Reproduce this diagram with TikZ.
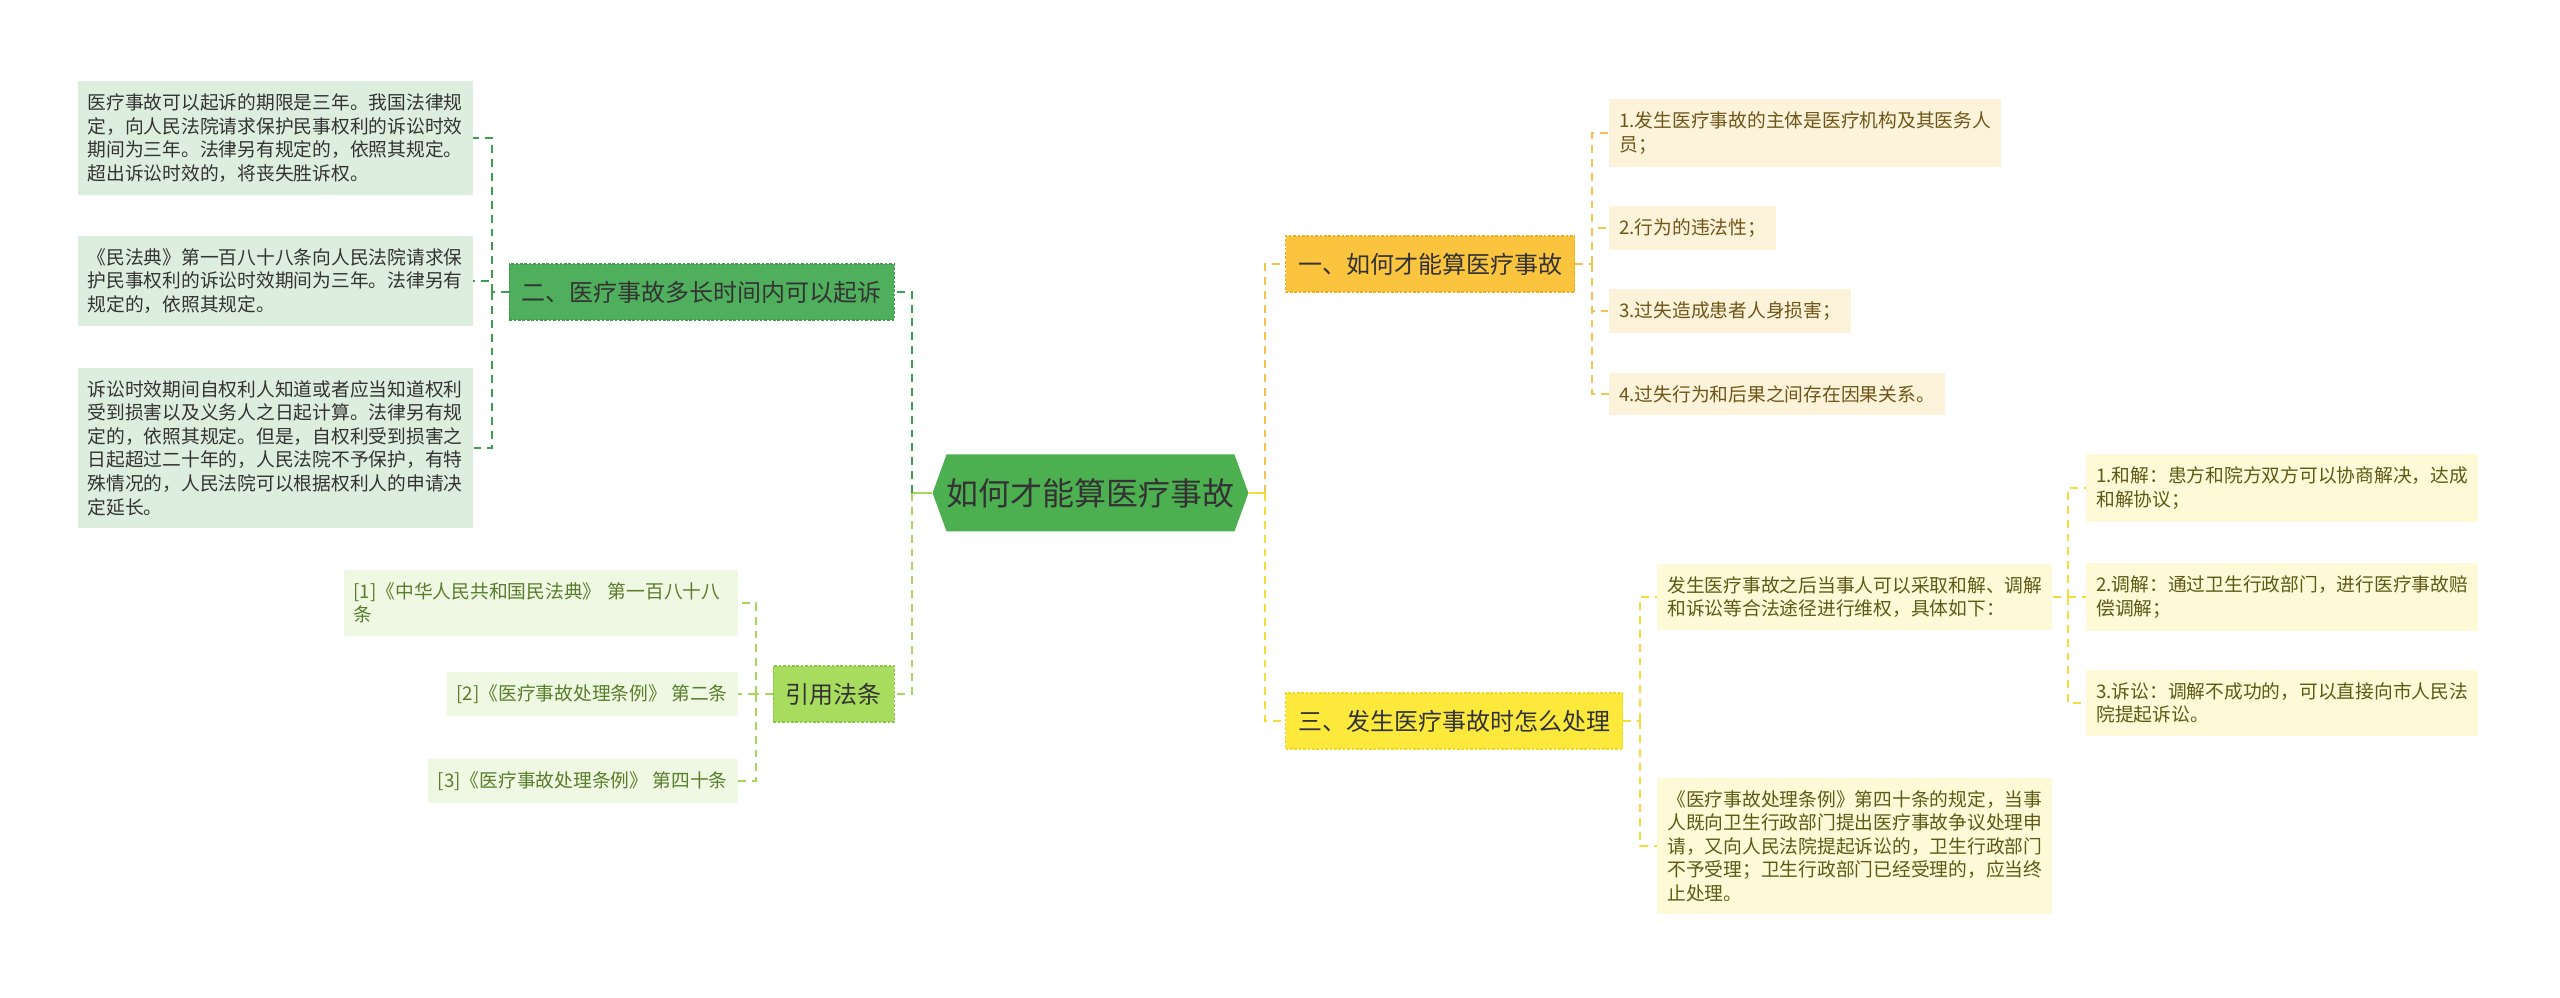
\documentclass[tikz,border=0pt]{standalone}
\usepackage{fontspec}
\setmainfont{Noto Sans CJK SC}
\usepackage{xcolor}
\usepackage{tikz}
\usetikzlibrary{shapes.symbols}
\definecolor{MAText}{HTML}{333333}
\definecolor{MARoot}{HTML}{4CAF50}
\definecolor{MAGreen}{HTML}{4FAF5C}
\definecolor{MAGreenDk}{HTML}{3E9A4C}
\definecolor{MAMint}{HTML}{DDEEDE}
\definecolor{MALime}{HTML}{A8DC5E}
\definecolor{MALimeDk}{HTML}{8CC445}
\definecolor{MALimeLeaf}{HTML}{EFF8E3}
\definecolor{MALimeText}{HTML}{5A7D2D}
\definecolor{MAAmber}{HTML}{FAC43F}
\definecolor{MAAmberDk}{HTML}{EEAE22}
\definecolor{MACream}{HTML}{FDF3DB}
\definecolor{MACreamText}{HTML}{6E5518}
\definecolor{MAYellow}{HTML}{FCE93C}
\definecolor{MAYellowDk}{HTML}{EED91E}
\definecolor{MAPale}{HTML}{FEF9D7}
\definecolor{MAPaleText}{HTML}{5E5A16}
\definecolor{MALineDk}{HTML}{3E9E50}
\definecolor{MALineLt}{HTML}{A6D65B}
\definecolor{MALineOr}{HTML}{F2C34F}
\definecolor{MALineYe}{HTML}{F3DD3C}

\begin{document}
\begin{tikzpicture}[x=1cm,y=1cm,
  twig/.style={line width=1.1pt,dash pattern=on 4.5pt off 3.4pt},
  topic/.style={rectangle,minimum height=1.12cm,inner xsep=0.25cm,inner ysep=0pt,text=MAText,
    font=\fontsize{13.66pt}{16pt}\selectfont,dash pattern=on 1.5pt off 1pt,line width=0.7pt},
  leaf/.style={rectangle,align=left,inner xsep=0.2cm,inner ysep=0.25cm,
    font=\fontsize{10.67pt}{13.4pt}\selectfont},
  root/.style={signal,signal to=west and east,signal pointer angle=140,fill=MARoot,
    minimum height=1.54cm,minimum width=5.92cm,inner xsep=0pt,text=MAText,
    font=\fontsize{18.2pt}{22pt}\selectfont}]
\path[use as bounding box] (0,0) rectangle (51.20,19.94);
% centre
\node[root] (root) at (21.81,10.08) {如何才能算医疗事故};
% first level
\node[topic,fill=MAGreen,draw=MAGreenDk,anchor=east] (howlong) at (17.90,14.10) {二、医疗事故多长时间内可以起诉};
\node[topic,fill=MALime,draw=MALimeDk,anchor=east] (laws) at (17.90,6.06) {引用法条};
\node[topic,fill=MAAmber,draw=MAAmberDk,anchor=west] (what) at (25.70,14.66) {一、如何才能算医疗事故};
\node[topic,fill=MAYellow,draw=MAYellowDk,anchor=west] (handle) at (25.70,5.52) {三、发生医疗事故时怎么处理};
% left leaves
\node[leaf,fill=MAMint,text=MAText,anchor=east] (term) at (9.46,17.18) {医疗事故可以起诉的期限是三年。我国法律规\\定，向人民法院请求保护民事权利的诉讼时效\\期间为三年。法律另有规定的，依照其规定。\\超出诉讼时效的，将丧失胜诉权。};
\node[leaf,fill=MAMint,text=MAText,anchor=east] (code) at (9.46,14.32) {《民法典》第一百八十八条向人民法院请求保\\护民事权利的诉讼时效期间为三年。法律另有\\规定的，依照其规定。};
\node[leaf,fill=MAMint,text=MAText,anchor=east] (start) at (9.46,10.98) {诉讼时效期间自权利人知道或者应当知道权利\\受到损害以及义务人之日起计算。法律另有规\\定的，依照其规定。但是，自权利受到损害之\\日起超过二十年的，人民法院不予保护，有特\\殊情况的，人民法院可以根据权利人的申请决\\定延长。};
\node[leaf,fill=MALimeLeaf,text=MALimeText,anchor=east,text width=7.48cm] (ref1) at (14.76,7.88) {[1]《中华人民共和国民法典》 第一百八十八\\条};
\node[leaf,fill=MALimeLeaf,text=MALimeText,anchor=east] (ref2) at (14.76,6.06) {[2]《医疗事故处理条例》 第二条};
\node[leaf,fill=MALimeLeaf,text=MALimeText,anchor=east] (ref3) at (14.76,4.32) {[3]《医疗事故处理条例》 第四十条};
% right leaves
\node[leaf,fill=MACream,text=MACreamText,anchor=west] (subject) at (32.18,17.28) {1.发生医疗事故的主体是医疗机构及其医务人\\员；};
\node[leaf,fill=MACream,text=MACreamText,anchor=west] (illegal) at (32.18,15.38) {2.行为的违法性；};
\node[leaf,fill=MACream,text=MACreamText,anchor=west] (harm) at (32.18,13.72) {3.过失造成患者人身损害；};
\node[leaf,fill=MACream,text=MACreamText,anchor=west] (cause) at (32.18,12.06) {4.过失行为和后果之间存在因果关系。};
\node[leaf,fill=MAPale,text=MAPaleText,anchor=west] (ways) at (33.14,8.00) {发生医疗事故之后当事人可以采取和解、调解\\和诉讼等合法途径进行维权，具体如下：};
\node[leaf,fill=MAPale,text=MAPaleText,anchor=west] (rule) at (33.14,3.02) {《医疗事故处理条例》第四十条的规定，当事\\人既向卫生行政部门提出医疗事故争议处理申\\请，又向人民法院提起诉讼的，卫生行政部门\\不予受理；卫生行政部门已经受理的，应当终\\止处理。};
\node[leaf,fill=MAPale,text=MAPaleText,anchor=west] (settle) at (41.72,10.18) {1.和解：患方和院方双方可以协商解决，达成\\和解协议；};
\node[leaf,fill=MAPale,text=MAPaleText,anchor=west] (mediate) at (41.72,8.00) {2.调解：通过卫生行政部门，进行医疗事故赔\\偿调解；};
\node[leaf,fill=MAPale,text=MAPaleText,anchor=west] (sue) at (41.72,5.88) {3.诉讼：调解不成功的，可以直接向市人民法\\院提起诉讼。};
% joints
\coordinate (jLeft) at (18.24,10.08);
\coordinate (jRight) at (25.30,10.08);
\coordinate (jHowlong) at (9.84,14.10);
\coordinate (jLaws) at (15.12,6.06);
\coordinate (jWhat) at (31.84,14.66);
\coordinate (jHandle) at (32.80,5.52);
\coordinate (jWays) at (41.36,8.00);
% connectors
\draw[MALineLt,line width=1.1pt] (root.west) -- (jLeft);
\draw[MALineYe,line width=1.1pt] (root.east) -- (jRight);
\draw[twig,MALineDk] (jLeft) |- (howlong.east);
\draw[twig,MALineLt] (jLeft) |- (laws.east);
\draw[twig,MALineOr] (jRight) |- (what.west);
\draw[twig,MALineYe] (jRight) |- (handle.west);
\draw[twig,MALineDk] (howlong.west) -- (jHowlong);
\foreach \n in {term,code,start} \draw[twig,MALineDk] (jHowlong) |- (\n.east);
\draw[twig,MALineLt] (laws.west) -- (jLaws);
\foreach \n in {ref1,ref2,ref3} \draw[twig,MALineLt] (jLaws) |- (\n.east);
\draw[twig,MALineOr] (what.east) -- (jWhat);
\foreach \n in {subject,illegal,harm,cause} \draw[twig,MALineOr] (jWhat) |- (\n.west);
\draw[twig,MALineYe] (handle.east) -- (jHandle);
\foreach \n in {ways,rule} \draw[twig,MALineYe] (jHandle) |- (\n.west);
\draw[twig,MALineYe] (ways.east) -- (jWays);
\foreach \n in {settle,mediate,sue} \draw[twig,MALineYe] (jWays) |- (\n.west);
\end{tikzpicture}
\end{document}
